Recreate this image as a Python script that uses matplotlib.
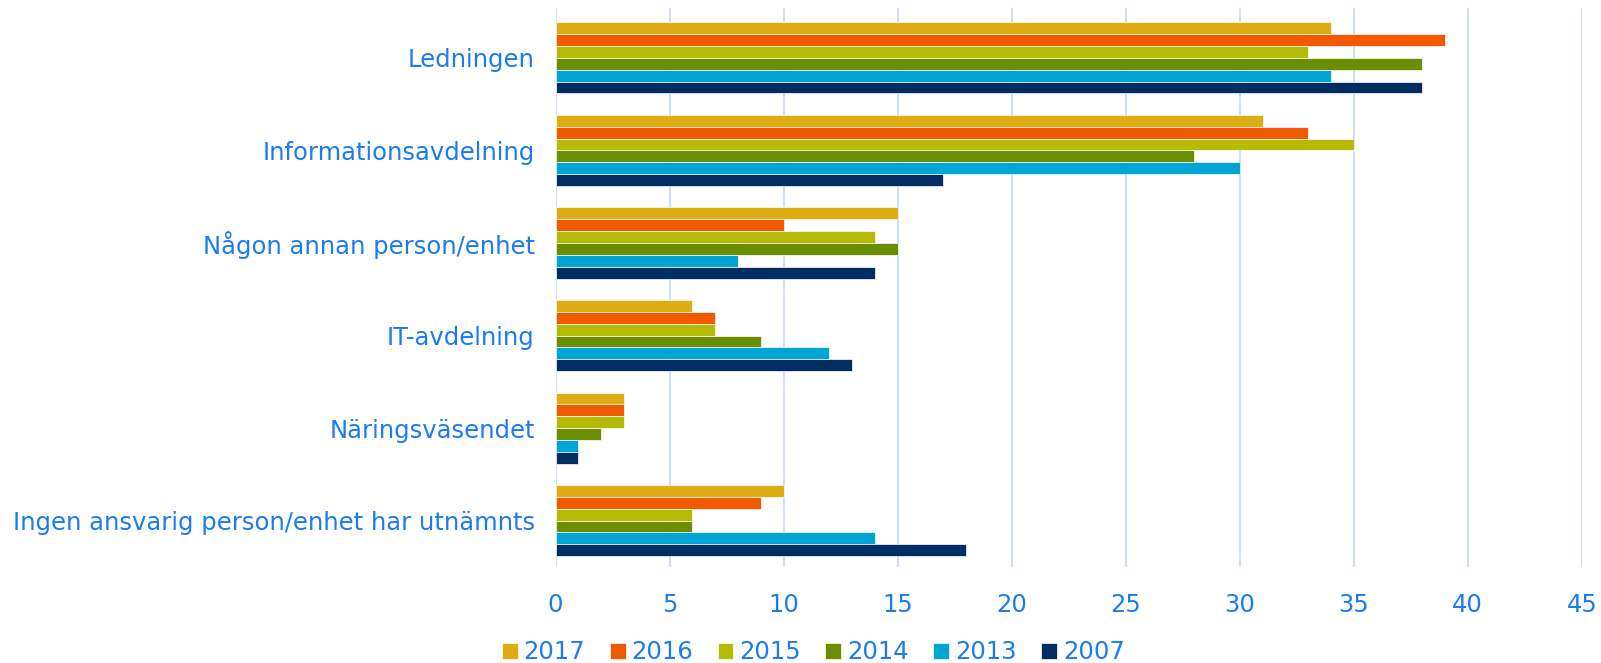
import numpy as np
import matplotlib.pyplot as plt

# Data
kategorier = ["Ledningen", "Informationsavdelning", "Någon annan person/enhet",
              "IT-avdelning", "Näringsväsendet", "Ingen ansvarig person/enhet har utnämnts"]
ar = ["2017", "2016", "2015", "2014", "2013", "2007"]
v2017 = [34, 31, 15, 6, 3, 10]
v2016 = [39, 33, 10, 7, 3, 9]
v2015 = [33, 35, 14, 7, 3, 6]
v2014 = [38, 28, 15, 9, 2, 6]
v2013 = [34, 30, 8, 12, 1, 14]
v2007 = [38, 17, 14, 13, 1, 18]
serier = [v2017, v2016, v2015, v2014, v2013, v2007]
farger = ["#DFAD13", "#F25A00", "#B5BA05", "#6B8E00", "#00A5D6", "#002D62"]

textfarg = "#1A7BF2"
gridfarg = "#C6DDF6"

fig = plt.figure(figsize=(16.01, 6.63), dpi=100)
ax = fig.add_axes([0.347, 0.145, 0.641, 0.843])

y = np.arange(len(kategorier))
hojd = 0.128
for i, (namn, vals, f) in enumerate(zip(ar, serier, farger)):
    ax.barh(y - 2.5 * hojd + i * hojd, vals, height=hojd, color=f,
            edgecolor="white", linewidth=0.5, label=namn, zorder=3)

ax.set_xlim(0, 45)
ax.set_ylim(5.5, -0.54)
ax.set_xticks(range(0, 46, 5))
ax.set_yticks(y)
ax.set_yticklabels(kategorier)
ax.tick_params(axis="both", length=0, labelsize=17.5, labelcolor=textfarg)
ax.tick_params(axis="x", pad=19)
ax.tick_params(axis="y", pad=15)
ax.grid(axis="x", color=gridfarg, linewidth=1.3, zorder=0)
for s in ax.spines.values():
    s.set_visible(False)

leg = fig.legend(loc="lower center", bbox_to_anchor=(0.508, -0.035), ncol=6,
                 frameon=False, fontsize=17.5, handlelength=0.65, handleheight=0.65,
                 handletextpad=0.25, columnspacing=1.0)
for t in leg.get_texts():
    t.set_color(textfarg)

fig.savefig("out.png", dpi=100)
